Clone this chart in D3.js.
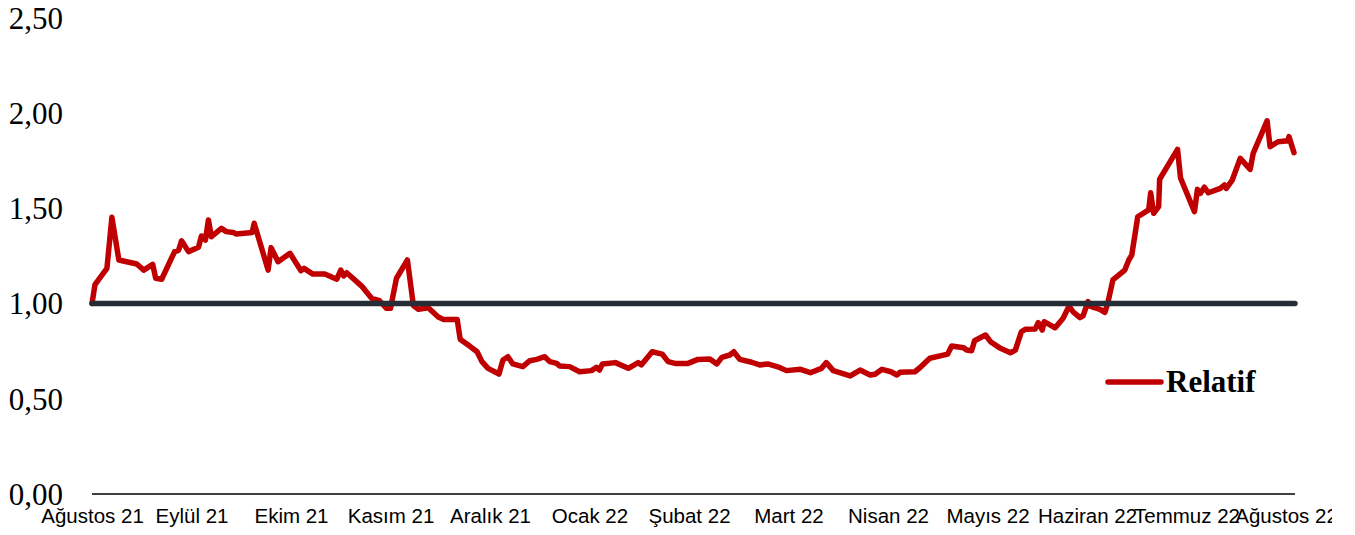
<!DOCTYPE html>
<html>
<head>
<meta charset="utf-8">
<script src="https://cdn.jsdelivr.net/npm/d3@7"></script>
<style>
  html, body { margin: 0; padding: 0; background: #ffffff; }
  svg { display: block; }
</style>
</head>
<body>
<svg id="chart" width="1355" height="535"></svg>
<script>
// Month labels (category ticks, one per month)
const monthLabels = ["Ağustos 21","Eylül 21","Ekim 21","Kasım 21","Aralık 21","Ocak 22","Şubat 22","Mart 22","Nisan 22","Mayıs 22","Haziran 22","Temmuz 22","Ağustos 22"];

// Time position in months since Ağustos 21
const t = [0.00,0.03,0.15,0.20,0.27,0.45,0.52,0.61,0.64,0.70,0.83,0.87,0.90,0.97,1.07,1.10,1.14,1.17,1.20,1.30,1.35,1.42,1.45,1.61,1.63,1.69,1.77,1.80,1.87,1.99,2.10,2.13,2.22,2.34,2.46,2.50,2.53,2.56,2.71,2.81,2.89,2.96,3.00,3.06,3.17,3.23,3.28,3.38,3.48,3.53,3.67,3.70,3.78,3.87,3.92,3.98,4.09,4.13,4.18,4.23,4.33,4.40,4.47,4.55,4.60,4.67,4.70,4.80,4.90,5.02,5.07,5.10,5.13,5.26,5.39,5.49,5.52,5.63,5.73,5.79,5.86,5.99,6.09,6.21,6.28,6.33,6.41,6.45,6.51,6.63,6.71,6.79,6.91,6.98,7.12,7.22,7.33,7.38,7.45,7.62,7.72,7.82,7.87,7.94,8.03,8.09,8.12,8.27,8.32,8.42,8.60,8.64,8.76,8.79,8.84,8.87,8.98,9.03,9.13,9.23,9.28,9.34,9.38,9.48,9.51,9.55,9.57,9.68,9.76,9.82,9.86,9.93,9.96,10.01,10.03,10.13,10.18,10.21,10.26,10.38,10.42,10.45,10.51,10.62,10.64,10.67,10.72,10.73,10.91,10.94,11.08,11.11,11.14,11.18,11.22,11.34,11.38,11.40,11.46,11.54,11.64,11.67,11.81,11.84,11.92,12.02,12.03,12.08];

// Relatif series values
const relatif = [1.00,1.10,1.185,1.453,1.229,1.208,1.176,1.206,1.133,1.128,1.273,1.28,1.33,1.273,1.296,1.355,1.334,1.439,1.351,1.395,1.378,1.373,1.366,1.374,1.422,1.317,1.176,1.294,1.22,1.264,1.173,1.185,1.155,1.155,1.128,1.176,1.145,1.162,1.092,1.028,1.015,0.975,0.975,1.133,1.229,0.99,0.97,0.978,0.93,0.917,0.917,0.813,0.783,0.747,0.695,0.66,0.63,0.704,0.721,0.683,0.669,0.70,0.707,0.721,0.695,0.686,0.672,0.669,0.642,0.648,0.665,0.651,0.683,0.69,0.66,0.69,0.678,0.747,0.735,0.695,0.686,0.686,0.707,0.709,0.683,0.718,0.73,0.747,0.707,0.692,0.678,0.683,0.665,0.648,0.655,0.637,0.66,0.69,0.648,0.62,0.651,0.625,0.629,0.655,0.642,0.625,0.639,0.642,0.663,0.713,0.735,0.777,0.768,0.756,0.752,0.805,0.835,0.80,0.765,0.742,0.756,0.852,0.865,0.867,0.90,0.861,0.905,0.873,0.923,0.987,0.957,0.926,0.935,1.01,0.987,0.97,0.954,1.005,1.124,1.176,1.229,1.255,1.456,1.492,1.582,1.474,1.509,1.653,1.81,1.66,1.483,1.60,1.579,1.611,1.582,1.605,1.623,1.605,1.649,1.763,1.705,1.789,1.96,1.824,1.85,1.855,1.877,1.793];

// Y-axis ticks and reference level
const yTicks = [0, 0.5, 1.0, 1.5, 2.0, 2.5];
const referenceLevel = 1.0;
const seriesName = "Relatif";

const svg = d3.select("#chart");
const x = d3.scaleLinear().domain([0, 12]).range([92, 1286]);
const y = d3.scaleLinear().domain([0, 2.5]).range([494, 18]);
const xEnd = x(12.09);

const fmt = v => d3.format(".2f")(v).replace(".", ",");

// clip for the chart area (the last month label is cut at the right edge)
svg.append("defs").append("clipPath").attr("id", "areaClip")
  .append("rect").attr("x", 0).attr("y", 0).attr("width", 1332).attr("height", 535);

// Y-axis labels (no axis line)
const yAxis = d3.axisLeft(y).tickValues(yTicks).tickFormat(fmt).tickSize(0).tickPadding(0);
const gy = svg.append("g").attr("transform", "translate(63,0)").call(yAxis);
gy.select(".domain").remove();
gy.selectAll("text")
  .attr("font-family", "'Liberation Serif', 'Times New Roman', serif")
  .attr("font-size", "31px")
  .attr("fill", "#000")
  .attr("dy", "0.33em");

// X-axis baseline and labels
const xAxis = d3.axisBottom(x).tickValues(d3.range(monthLabels.length)).tickFormat(i => monthLabels[i]).tickSize(0).tickPadding(0);
const gx = svg.append("g").attr("clip-path", "url(#areaClip)")
  .append("g").attr("transform", `translate(0,${y(0)})`).call(xAxis);
gx.select(".domain").remove();
gx.selectAll("text")
  .attr("font-family", "'Liberation Sans', Arial, sans-serif")
  .attr("font-size", "20.5px")
  .attr("fill", "#000")
  .attr("dy", null)
  .attr("y", 29);
svg.append("line")
  .attr("x1", x(0)).attr("x2", xEnd)
  .attr("y1", y(0)).attr("y2", y(0))
  .attr("stroke", "#000").attr("stroke-width", 1.5);

// Series line
const line = d3.line().x((d, i) => x(t[i])).y(d => y(d)).curve(d3.curveLinear);
svg.append("path")
  .datum(relatif)
  .attr("d", line)
  .attr("fill", "none")
  .attr("stroke", "#c00000")
  .attr("stroke-width", 5.5)
  .attr("stroke-linejoin", "round")
  .attr("stroke-linecap", "round");

// Reference line at 1,00
svg.append("line")
  .attr("x1", x(0)).attr("x2", xEnd)
  .attr("y1", y(referenceLevel)).attr("y2", y(referenceLevel))
  .attr("stroke", "#262d37").attr("stroke-width", 5.5)
  .attr("stroke-linecap", "round");

// Legend
const lg = svg.append("g");
lg.append("line")
  .attr("x1", 1108).attr("x2", 1161)
  .attr("y1", 382).attr("y2", 382)
  .attr("stroke", "#c00000").attr("stroke-width", 5.5)
  .attr("stroke-linecap", "round");
lg.append("text")
  .attr("x", 1166).attr("y", 392)
  .attr("font-family", "'Liberation Serif', 'Times New Roman', serif")
  .attr("font-weight", "bold")
  .attr("font-size", "31px")
  .attr("fill", "#000")
  .text(seriesName);
</script>
</body>
</html>
